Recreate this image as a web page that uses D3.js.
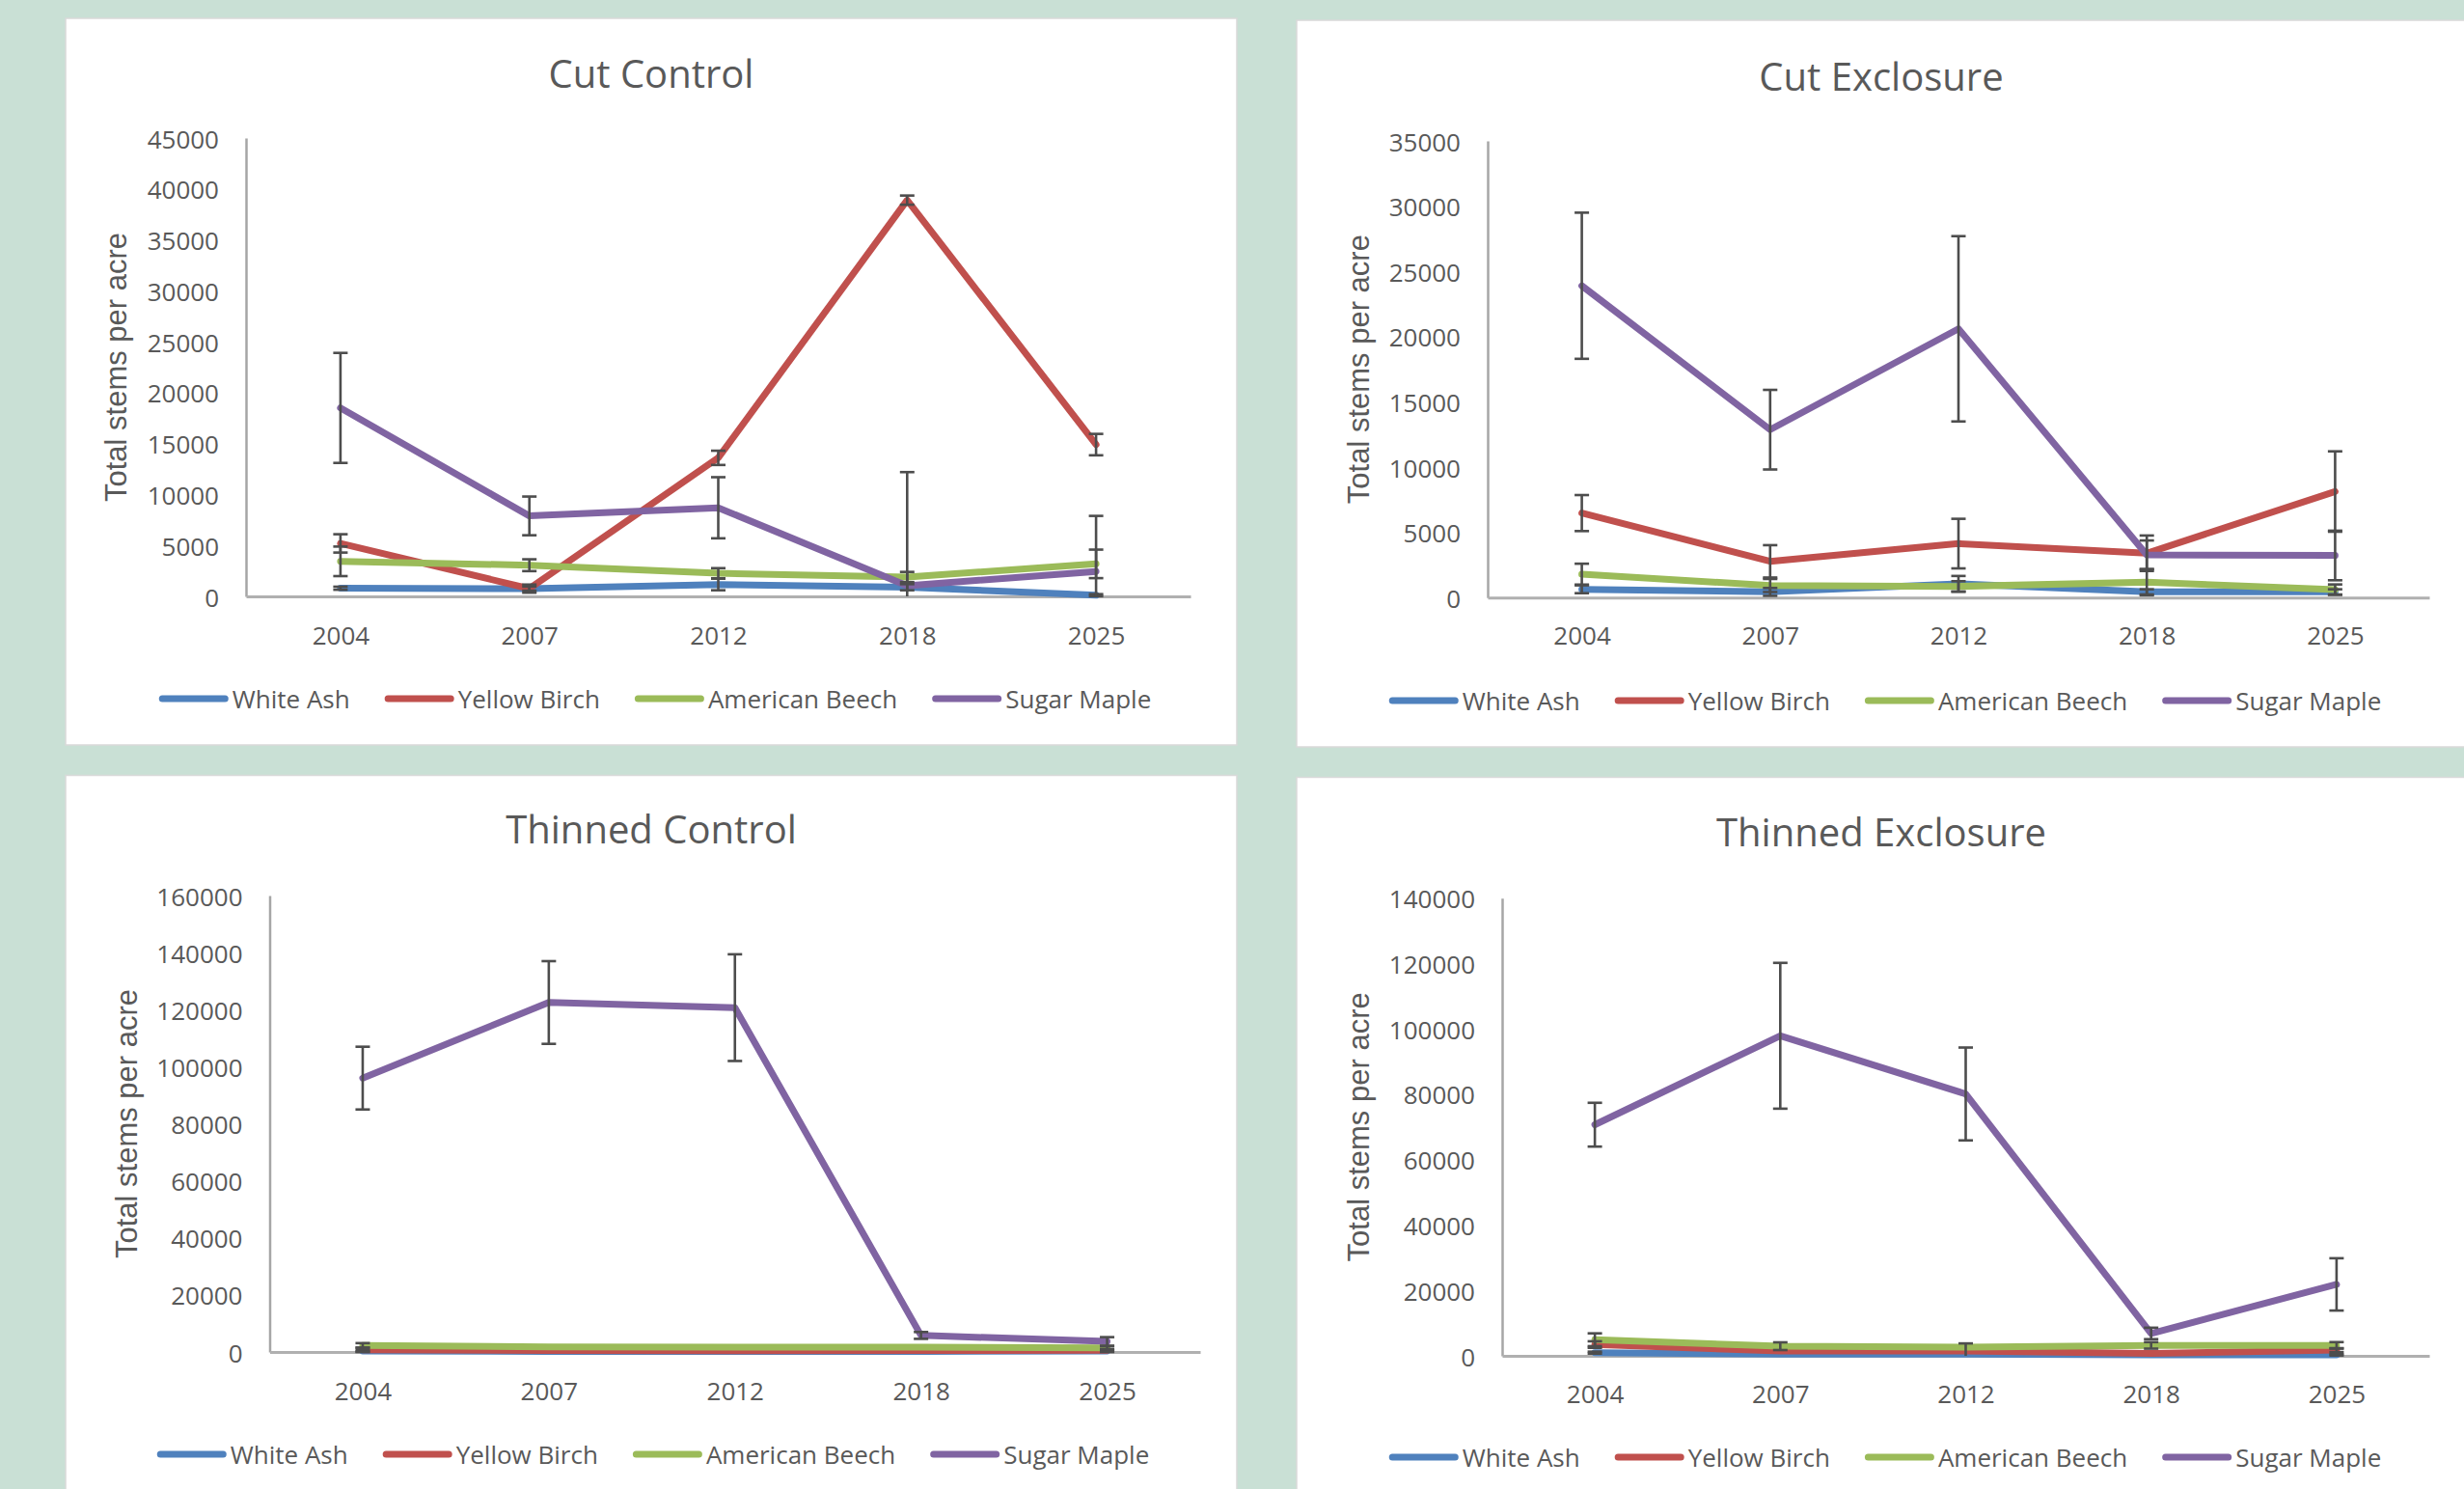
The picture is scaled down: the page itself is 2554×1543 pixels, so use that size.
<!DOCTYPE html>
<html>
<head>
<meta charset="utf-8">
<script src="https://cdn.jsdelivr.net/npm/d3@7"></script>
<style>
  html, body { margin: 0; padding: 0; background: #c9e0d5; }
  svg { display: block; }
</style>
</head>
<body>
<svg id="chart" width="2554" height="1543"></svg>
<script>
// ---------------- DATA ----------------
const years = ["2004", "2007", "2012", "2018", "2025"];
const species = ["White Ash", "Yellow Birch", "American Beech", "Sugar Maple"];
const panelTitles = ["Cut Control", "Cut Exclosure", "Thinned Control", "Thinned Exclosure"];
const yAxisTitle = "Total stems per acre";
const yMaxes = [45000, 35000, 160000, 140000];
const yTickSteps = [5000, 5000, 20000, 20000];

// Cut Control
const ccWhiteAsh      = [800, 760, 1170, 900, 120];
const ccYellowBirch   = [5200, 760, 13600, 38900, 14900];
const ccAmericanBeech = [3440, 3060, 2270, 1900, 3190];
const ccSugarMaple    = [18500, 7900, 8700, 1050, 2450];
const ccWhiteAshErr      = [150, 200, 570, 300, 100];
const ccYellowBirchErr   = [900, 400, 700, 450, 1050];
const ccAmericanBeechErr = [1450, 580, 500, 500, 1400];
const ccSugarMapleErr    = [5400, 1900, 3000, 11150, 5450];

// Cut Exclosure
const ceWhiteAsh      = [640, 440, 1060, 440, 440];
const ceYellowBirch   = [6480, 2780, 4140, 3400, 8130];
const ceAmericanBeech = [1800, 930, 860, 1180, 610];
const ceSugarMaple    = [23900, 12870, 20600, 3280, 3230];
const ceWhiteAshErr      = [300, 300, 600, 200, 200];
const ceYellowBirchErr   = [1380, 1240, 1900, 1360, 3080];
const ceAmericanBeechErr = [800, 500, 400, 1000, 400];
const ceSugarMapleErr    = [5600, 3050, 7100, 1100, 1900];

// Thinned Control
const tcWhiteAsh      = [300, 200, 200, 200, 300];
const tcYellowBirch   = [800, 500, 400, 500, 600];
const tcAmericanBeech = [2300, 1800, 1700, 1700, 1400];
const tcSugarMaple    = [96000, 122500, 120700, 5800, 3700];
const tcWhiteAshErr      = [300, 0, 0, 0, 300];
const tcYellowBirchErr   = [700, 0, 0, 0, 400];
const tcAmericanBeechErr = [800, 0, 0, 0, 600];
const tcSugarMapleErr    = [11000, 14500, 18700, 1200, 1500];

// Thinned Exclosure
const teWhiteAsh      = [980, 490, 490, 300, 300];
const teYellowBirch   = [3450, 1480, 1500, 730, 1750];
const teAmericanBeech = [4920, 2950, 2660, 3200, 3200];
const teSugarMaple    = [70700, 97900, 80100, 6850, 21850];
const teWhiteAshErr      = [300, 0, 0, 0, 200];
const teYellowBirchErr   = [1000, 0, 2300, 0, 600];
const teAmericanBeechErr = [1960, 1180, 0, 1000, 1000];
const teSugarMapleErr    = [6700, 22300, 14200, 1750, 8000];

// ---------------- STYLE / LAYOUT ----------------
const colors = ["#4f81bd", "#c0504d", "#9bbb59", "#8064a2"];
const textColor = "#595959";
const fontMain = "'Open Sans', 'Noto Sans', sans-serif";
const fontAxisTitle = "'Liberation Sans', Arial, sans-serif";

const panels = [
  { title: panelTitles[0], yMax: yMaxes[0], step: yTickSteps[0],
    series: [ccWhiteAsh, ccYellowBirch, ccAmericanBeech, ccSugarMaple],
    errs: [ccWhiteAshErr, ccYellowBirchErr, ccAmericanBeechErr, ccSugarMapleErr],
    box: {x: 68, y: 19, w: 1214, h: 753},
    plot: {l: 255, r: 1234, t: 143, b: 618},
    titleY: 75, xLabelY: 658, legendY: 724, yTitleX: 120, legendCx: 679 },
  { title: panelTitles[1], yMax: yMaxes[1], step: yTickSteps[1],
    series: [ceWhiteAsh, ceYellowBirch, ceAmericanBeech, ceSugarMaple],
    errs: [ceWhiteAshErr, ceYellowBirchErr, ceAmericanBeechErr, ceSugarMapleErr],
    box: {x: 1344, y: 21, w: 1212, h: 753},
    plot: {l: 1542, r: 2518, t: 146, b: 619.3},
    titleY: 78, xLabelY: 658, legendY: 726, yTitleX: 1408, legendCx: 1954 },
  { title: panelTitles[2], yMax: yMaxes[2], step: yTickSteps[2],
    series: [tcWhiteAsh, tcYellowBirch, tcAmericanBeech, tcSugarMaple],
    errs: [tcWhiteAshErr, tcYellowBirchErr, tcAmericanBeechErr, tcSugarMapleErr],
    box: {x: 68, y: 803.5, w: 1214, h: 760},
    plot: {l: 279.5, r: 1244, t: 928, b: 1401},
    titleY: 858, xLabelY: 1441, legendY: 1507, yTitleX: 131, legendCx: 677 },
  { title: panelTitles[3], yMax: yMaxes[3], step: yTickSteps[3],
    series: [teWhiteAsh, teYellowBirch, teAmericanBeech, teSugarMaple],
    errs: [teWhiteAshErr, teYellowBirchErr, teAmericanBeechErr, teSugarMapleErr],
    box: {x: 1344, y: 805.5, w: 1212, h: 760},
    plot: {l: 1557, r: 2518, t: 930.7, b: 1405},
    titleY: 861, xLabelY: 1444, legendY: 1510, yTitleX: 1408, legendCx: 1954 }
];

const svg = d3.select("#chart");
svg.append("rect").attr("width", 2554).attr("height", 1543).attr("fill", "#c9e0d5");

panels.forEach(p => {
  const g = svg.append("g");
  g.append("rect")
    .attr("x", p.box.x).attr("y", p.box.y).attr("width", p.box.w).attr("height", p.box.h)
    .attr("fill", "#ffffff").attr("stroke", "#d9d9d9").attr("stroke-width", 1.5);

  const x = d3.scalePoint().domain(years).range([p.plot.l, p.plot.r]).padding(0.5);
  const y = d3.scaleLinear().domain([0, p.yMax]).range([p.plot.b, p.plot.t]);

  // title
  g.append("text").attr("x", (p.box.x + p.box.x + p.box.w) / 2).attr("y", p.titleY)
    .attr("text-anchor", "middle").attr("dominant-baseline", "central")
    .attr("font-family", fontMain).attr("font-size", 40).attr("fill", textColor)
    .text(p.title);

  // y axis
  const yAxis = d3.axisLeft(y).tickValues(d3.range(0, p.yMax + 1, p.step))
    .tickSize(0).tickPadding(28).tickFormat(d3.format("d"));
  const ya = g.append("g").attr("transform", `translate(${p.plot.l},0)`).call(yAxis);
  ya.select(".domain").attr("stroke", "#a6a6a6").attr("stroke-width", 2.5);
  ya.selectAll("text").attr("font-family", fontMain).attr("font-size", 26)
    .attr("fill", textColor).attr("dy", null).attr("dominant-baseline", "central");

  // x axis
  const xAxis = d3.axisBottom(x).tickSize(0).tickPadding(0);
  const xa = g.append("g").attr("transform", `translate(0,${p.plot.b})`).call(xAxis);
  xa.select(".domain").attr("stroke", "#b0b0b0").attr("stroke-width", 3);
  xa.selectAll("text").attr("font-family", fontMain).attr("font-size", 26)
    .attr("fill", textColor).attr("dy", null).attr("y", p.xLabelY - p.plot.b)
    .attr("dominant-baseline", "central");

  // y axis title
  g.append("text")
    .attr("transform", `translate(${p.yTitleX},${(p.plot.t + p.plot.b) / 2}) rotate(-90)`)
    .attr("text-anchor", "middle").attr("dominant-baseline", "central")
    .attr("font-family", fontAxisTitle).attr("font-size", 31).attr("fill", textColor)
    .text(yAxisTitle);

  // lines
  const line = d3.line().x((d, i) => x(years[i])).y(d => y(d));
  p.series.forEach((vals, si) => {
    g.append("path").datum(vals).attr("d", line)
      .attr("fill", "none").attr("stroke", colors[si]).attr("stroke-width", 7)
      .attr("stroke-linejoin", "round").attr("stroke-linecap", "round");
  });

  // error bars
  const eg = g.append("g").attr("stroke", "#4d4d4d").attr("stroke-width", 2.6);
  p.series.forEach((vals, si) => {
    vals.forEach((v, i) => {
      const e = p.errs[si][i];
      if (!e) return;
      const cx = x(years[i]);
      const hiV = Math.min(v + e, p.yMax), loV = v - e;
      const yHi = y(hiV), yLo = y(Math.max(loV, 0));
      eg.append("line").attr("x1", cx).attr("x2", cx).attr("y1", yHi).attr("y2", yLo);
      eg.append("line").attr("x1", cx - 7.5).attr("x2", cx + 7.5).attr("y1", yHi).attr("y2", yHi);
      if (loV >= 0) {
        eg.append("line").attr("x1", cx - 7.5).attr("x2", cx + 7.5).attr("y1", yLo).attr("y2", yLo);
      }
    });
  });

  // legend
  const lg = g.append("g");
  let cur = 0;
  species.forEach((s, si) => {
    const item = lg.append("g").attr("transform", `translate(${cur},0)`);
    item.append("line").attr("x1", 3.5).attr("x2", 68.5).attr("y1", 0).attr("y2", 0)
      .attr("stroke", colors[si]).attr("stroke-width", 7).attr("stroke-linecap", "round");
    const t = item.append("text").attr("x", 76).attr("y", 0)
      .attr("dominant-baseline", "central")
      .attr("font-family", fontMain).attr("font-size", 26).attr("fill", textColor).text(s);
    const w = t.node().getComputedTextLength();
    cur += 76 + w + (si < species.length - 1 ? 36 : 0);
  });
  lg.attr("transform", `translate(${p.legendCx - cur / 2},${p.legendY})`);
});
</script>
</body>
</html>
